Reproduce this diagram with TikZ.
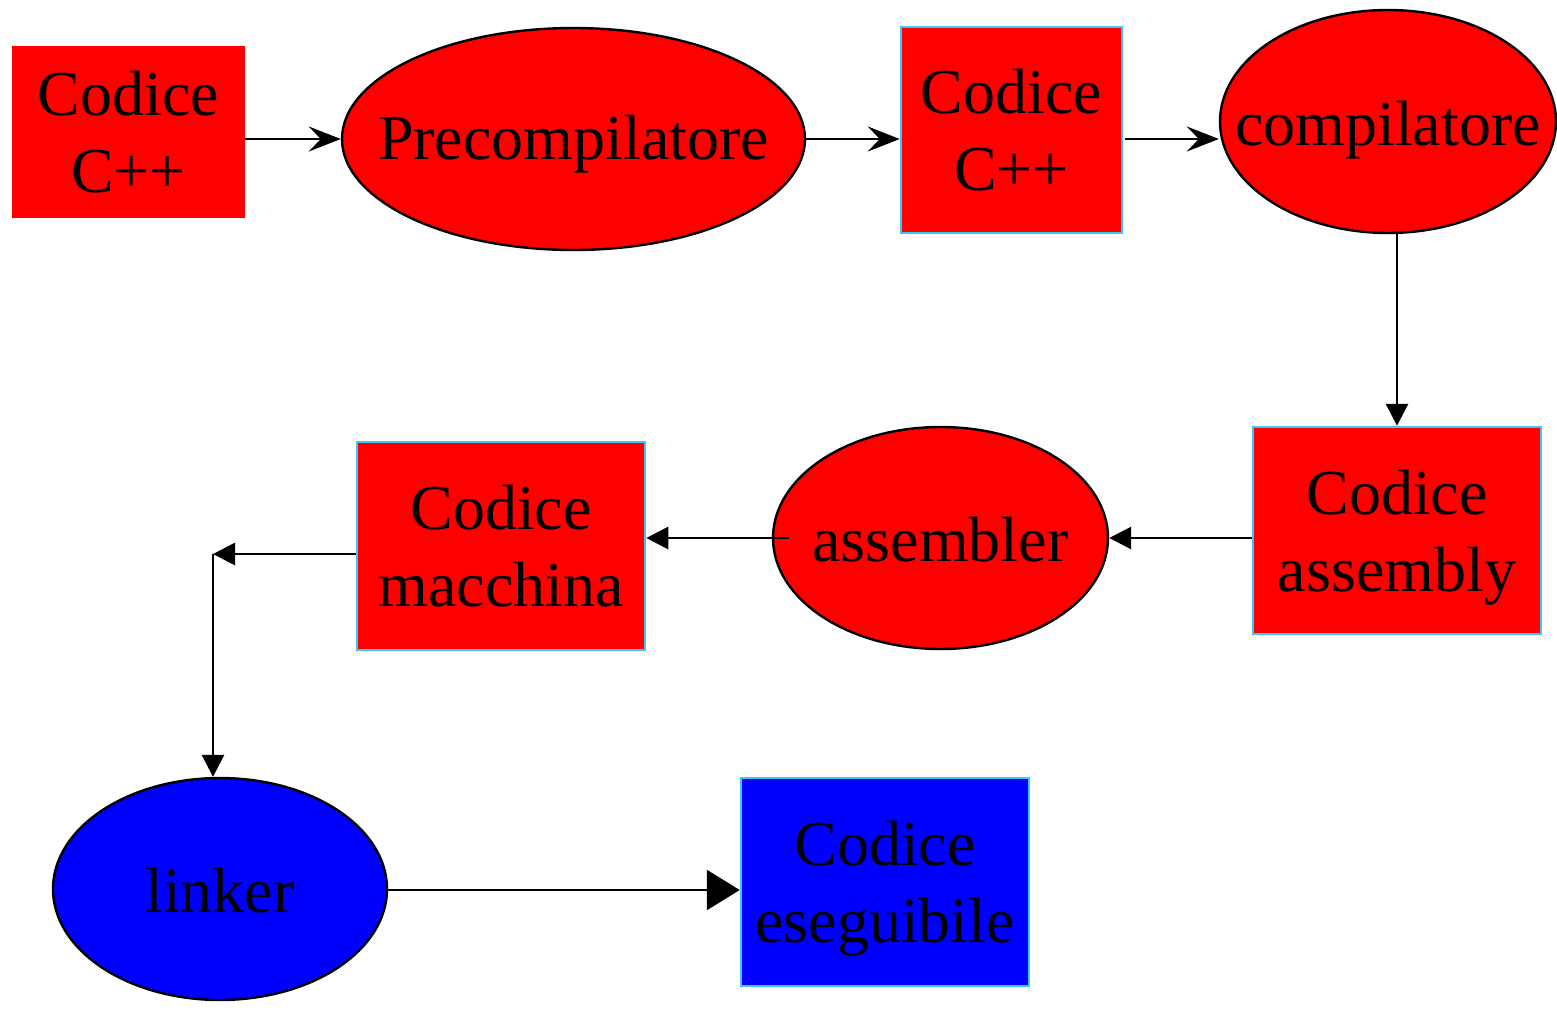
\documentclass[tikz,border=0pt]{standalone}
\usepackage{fontspec}
\setmainfont{Liberation Serif}
\usetikzlibrary{shapes.geometric,arrows.meta}
\definecolor{bordercyan}{HTML}{3CC8F5}
\tikzset{
  txt/.style={font=\fontsize{64}{77}\selectfont, align=center, text=black},
  redbox/.style={txt, rectangle, fill=red, inner sep=0pt, text depth=0pt},
  cbox/.style={redbox, draw=bordercyan, line width=2.5pt},
  bluebox/.style={cbox, fill=blue},
  oval/.style={ellipse, fill=red, draw=black, line width=2.4pt, inner sep=0pt},
  blueoval/.style={oval, fill=blue},
  conn/.style={draw=black, line width=2.8pt},
  stl/.style={conn, -{Stealth[length=32pt,width=25pt,inset=12pt]}},
  tri/.style={conn, -{Triangle[length=22pt,width=22pt]}},
  bigtri/.style={conn, -{Triangle[length=33pt,width=40pt]}}
}
\begin{document}
\begin{tikzpicture}[x=1pt,y=-1pt]
\useasboundingbox (0,0) rectangle (1557,1010);
\node[redbox, minimum width=233pt, minimum height=172pt] (c1) at (128.5,132) {Codice\\C++};
\node[oval, minimum width=463pt, minimum height=222pt, label={[txt,yshift=-5pt]center:Precompilatore}] (pre) at (573.5,139) {};
\node[cbox, minimum width=221pt, minimum height=206pt] (c2) at (1011.5,130) {Codice\\C++};
\node[oval, minimum width=336pt, minimum height=223pt, label={[txt,yshift=-9pt]center:compilatore}] (comp) at (1388,121.5) {};
\node[cbox, minimum width=288pt, minimum height=207pt] (asm) at (1397,530.5) {Codice\\assembly};
\node[oval, minimum width=335pt, minimum height=222pt, label={[txt,yshift=-2pt]center:assembler}] (as) at (940.5,538) {};
\node[cbox, minimum width=288pt, minimum height=208pt] (mac) at (501,546) {Codice\\macchina};
\node[blueoval, minimum width=334pt, minimum height=222pt, label={[txt,yshift=-2pt]center:linker}] (lnk) at (220,889) {};
\node[bluebox, minimum width=288pt, minimum height=208pt] (exe) at (885,882) {Codice\\eseguibile};
\coordinate (corner) at (213,554);

\draw[stl] (c1.east |- 0,139) -- (pre.west);
\draw[stl] (pre.east) -- (c2.west |- pre.east);
\draw[stl] (1125,139) -- (comp.west |- 0,139);
\draw[tri] (1397,233) -- (asm.north);
\draw[tri] (asm.west |- 0,538) -- (as.east);
\draw[tri] ([xshift=17pt]as.west) -- (mac.east |- 0,538);
\draw[tri] (mac.west |- 0,554) -- (corner);
\draw[tri] (corner) -- (corner |- lnk.north);
\draw[bigtri] (lnk.east |- 0,890) -- (exe.west |- 0,890);
\end{tikzpicture}
\end{document}
